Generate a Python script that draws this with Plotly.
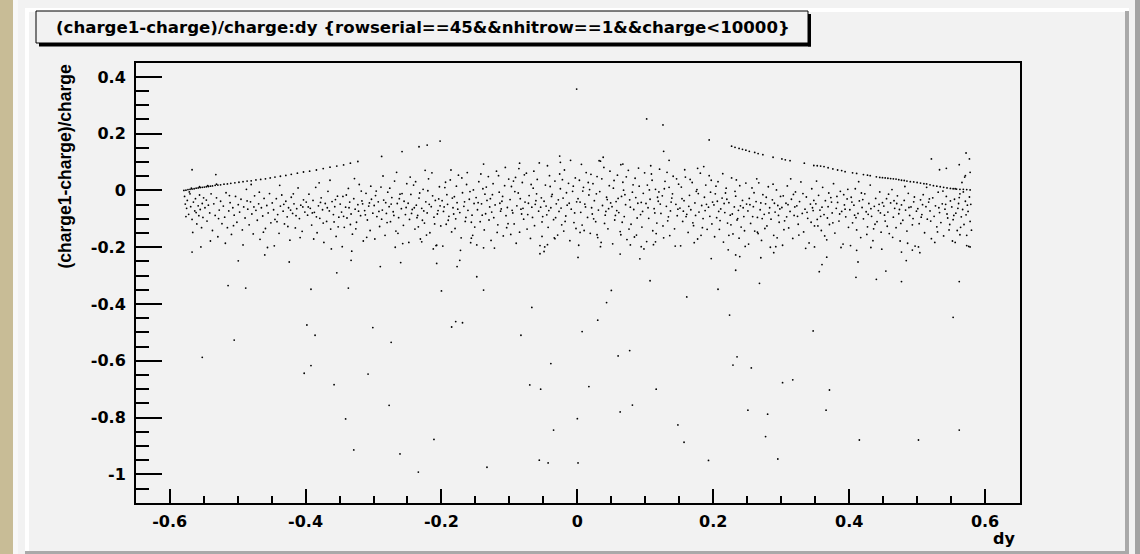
import plotly.graph_objects as go

# ---------------------------------------------------------------------------
# Data: (dy, (charge1-charge)/charge) pairs
# ---------------------------------------------------------------------------

# upper-left diagonal band
left_edge = [
    (-0.579, 0.000), (-0.576, 0.001), (-0.573, 0.003), (-0.570, 0.004), (-0.567, 0.005),
    (-0.564, 0.006), (-0.561, 0.008), (-0.558, 0.009), (-0.555, 0.010), (-0.552, 0.011),
    (-0.549, 0.012), (-0.546, 0.013), (-0.543, 0.014), (-0.540, 0.015), (-0.537, 0.016),
    (-0.533, 0.018), (-0.529, 0.019), (-0.525, 0.020), (-0.520, 0.022), (-0.515, 0.023),
    (-0.510, 0.025), (-0.504, 0.027), (-0.498, 0.029), (-0.492, 0.031), (-0.486, 0.033),
    (-0.480, 0.034), (-0.473, 0.037), (-0.466, 0.039), (-0.459, 0.041), (-0.452, 0.044),
    (-0.445, 0.047), (-0.437, 0.050), (-0.429, 0.053), (-0.421, 0.057), (-0.412, 0.061),
    (-0.403, 0.065), (-0.394, 0.068), (-0.384, 0.072), (-0.374, 0.077), (-0.364, 0.082),
    (-0.354, 0.086), (-0.344, 0.090), (-0.334, 0.096), (-0.323, 0.102),
    (-0.568, 0.008), (-0.556, 0.013), (-0.544, 0.017), (-0.531, 0.022),
]

# upper-right band
right_edge = [
    (0.227, 0.156), (0.232, 0.152), (0.238, 0.148), (0.243, 0.145), (0.248, 0.142),
    (0.253, 0.138), (0.261, 0.134), (0.266, 0.130), (0.273, 0.126), (0.288, 0.117),
    (0.301, 0.111), (0.306, 0.108), (0.313, 0.105), (0.334, 0.096), (0.348, 0.088),
    (0.353, 0.087), (0.358, 0.086), (0.363, 0.084), (0.369, 0.080), (0.376, 0.076),
    (0.383, 0.072), (0.389, 0.070), (0.394, 0.066), (0.405, 0.062), (0.411, 0.060),
    (0.421, 0.056), (0.427, 0.054), (0.431, 0.052), (0.440, 0.048), (0.445, 0.046),
    (0.449, 0.045), (0.453, 0.044), (0.457, 0.043), (0.461, 0.042), (0.465, 0.041),
    (0.469, 0.040), (0.473, 0.038), (0.477, 0.036), (0.481, 0.035), (0.485, 0.033),
    (0.490, 0.031), (0.495, 0.030), (0.500, 0.028), (0.505, 0.026), (0.510, 0.024),
    (0.514, 0.023), (0.519, 0.020), (0.524, 0.017), (0.529, 0.015), (0.534, 0.013),
    (0.539, 0.011), (0.544, 0.009), (0.549, 0.007), (0.553, 0.006), (0.558, 0.005),
    (0.563, 0.004), (0.568, 0.004), (0.573, 0.003), (0.578, 0.002),
]

# main band, dy < -0.2
cloud_left = [
    (-0.578, -0.021), (-0.577, -0.048), (-0.575, -0.063), (-0.574, -0.035), (-0.572, -0.084),
    (-0.570, -0.012), (-0.569, -0.057), (-0.567, -0.102), (-0.565, -0.041), (-0.563, -0.072),
    (-0.562, -0.029), (-0.560, -0.118), (-0.558, -0.054), (-0.557, -0.089), (-0.556, -0.016),
    (-0.555, -0.067), (-0.553, -0.131), (-0.552, -0.046), (-0.551, -0.095), (-0.550, -0.026),
    (-0.566, -0.148), (-0.571, -0.005), (-0.561, -0.078), (-0.554, -0.199), (-0.576, -0.092),
    (-0.548, -0.061), (-0.546, -0.034), (-0.545, -0.108), (-0.543, -0.052), (-0.541, -0.079),
    (-0.539, -0.012), (-0.537, -0.141), (-0.535, -0.047), (-0.533, -0.088), (-0.531, -0.026),
    (-0.529, -0.163), (-0.527, -0.069), (-0.525, -0.038), (-0.523, -0.117), (-0.521, -0.055),
    (-0.519, -0.094), (-0.517, -0.008), (-0.515, -0.131), (-0.513, -0.072), (-0.511, -0.043),
    (-0.509, -0.155), (-0.507, -0.061), (-0.505, -0.087), (-0.503, -0.021), (-0.501, -0.112),
    (-0.540, -0.178), (-0.528, -0.099), (-0.518, -0.186), (-0.512, -0.018), (-0.506, -0.124),
    (-0.499, -0.050), (-0.497, -0.076), (-0.495, -0.031), (-0.493, -0.139), (-0.491, -0.058),
    (-0.489, -0.097), (-0.487, 0.004), (-0.485, -0.066), (-0.483, -0.121), (-0.481, -0.040),
    (-0.479, -0.083), (-0.477, -0.153), (-0.475, -0.019), (-0.473, -0.070), (-0.471, -0.105),
    (-0.469, -0.047), (-0.467, -0.172), (-0.465, -0.061), (-0.463, -0.090), (-0.461, -0.028),
    (-0.459, -0.134), (-0.457, -0.053), (-0.455, -0.079), (-0.453, -0.011), (-0.451, -0.114),
    (-0.492, -0.192), (-0.486, -0.037), (-0.476, -0.058), (-0.468, -0.006), (-0.462, -0.147),
    (-0.456, -0.201), (-0.480, 0.021),
    (-0.449, -0.044), (-0.447, -0.068), (-0.445, -0.102), (-0.443, -0.029), (-0.441, -0.085),
    (-0.439, -0.151), (-0.437, -0.055), (-0.435, -0.016), (-0.433, -0.073), (-0.431, -0.118),
    (-0.429, -0.038), (-0.427, -0.093), (-0.425, -0.061), (-0.423, -0.175), (-0.421, -0.024),
    (-0.419, -0.081), (-0.417, -0.047), (-0.415, -0.132), (-0.413, -0.064), (-0.411, 0.009),
    (-0.409, -0.099), (-0.407, -0.052), (-0.405, -0.144), (-0.403, -0.033), (-0.401, -0.076),
    (-0.446, -0.195), (-0.438, 0.018), (-0.432, -0.049), (-0.426, -0.127), (-0.418, -0.012),
    (-0.414, -0.089), (-0.408, -0.166), (-0.404, -0.058), (-0.442, -0.110), (-0.422, -0.069),
    (-0.399, -0.041), (-0.397, -0.087), (-0.395, -0.013), (-0.393, -0.063), (-0.391, -0.122),
    (-0.389, -0.035), (-0.387, -0.077), (-0.385, 0.011), (-0.383, -0.149), (-0.381, -0.054),
    (-0.379, -0.098), (-0.377, -0.026), (-0.375, -0.068), (-0.373, -0.183), (-0.371, -0.046),
    (-0.369, -0.109), (-0.367, -0.003), (-0.365, -0.072), (-0.363, -0.136), (-0.361, -0.039),
    (-0.359, -0.085), (-0.357, -0.057), (-0.355, -0.162), (-0.353, -0.020), (-0.351, -0.094),
    (-0.396, -0.058), (-0.388, -0.171), (-0.380, 0.027), (-0.374, -0.115), (-0.368, -0.061),
    (-0.362, -0.206), (-0.356, -0.032), (-0.352, -0.128), (-0.390, -0.079), (-0.378, -0.042),
    (-0.364, 0.036), (-0.358, -0.111), (-0.384, -0.093),
    (-0.349, -0.048), (-0.347, -0.076), (-0.345, -0.021), (-0.343, -0.130), (-0.341, -0.059),
    (-0.339, -0.097), (-0.337, 0.007), (-0.335, -0.041), (-0.333, -0.083), (-0.331, -0.154),
    (-0.329, -0.029), (-0.327, -0.066), (-0.325, -0.112), (-0.323, -0.050), (-0.321, 0.021),
    (-0.319, -0.089), (-0.317, -0.037), (-0.315, -0.178), (-0.313, -0.071), (-0.311, -0.010),
    (-0.309, -0.104), (-0.307, -0.055), (-0.305, -0.141), (-0.303, -0.031), (-0.301, -0.080),
    (-0.346, -0.198), (-0.340, -0.016), (-0.334, -0.120), (-0.328, 0.042), (-0.322, -0.073),
    (-0.316, -0.047), (-0.310, -0.165), (-0.304, 0.015), (-0.344, -0.091), (-0.336, -0.061),
    (-0.326, -0.135), (-0.318, -0.002), (-0.312, -0.086), (-0.306, -0.044), (-0.332, -0.214),
    (-0.299, -0.053), (-0.297, -0.018), (-0.295, -0.092), (-0.293, -0.040), (-0.291, -0.127),
    (-0.289, 0.012), (-0.287, -0.069), (-0.285, -0.034), (-0.283, -0.158), (-0.281, -0.081),
    (-0.279, -0.006), (-0.277, -0.057), (-0.275, -0.110), (-0.273, -0.025), (-0.271, -0.075),
    (-0.269, 0.033), (-0.267, -0.143), (-0.265, -0.046), (-0.263, -0.096), (-0.261, -0.013),
    (-0.259, -0.064), (-0.257, -0.187), (-0.255, -0.038), (-0.253, -0.085), (-0.251, 0.024),
    (-0.298, -0.171), (-0.292, -0.074), (-0.286, 0.051), (-0.280, -0.113), (-0.274, -0.048),
    (-0.268, -0.200), (-0.262, -0.029), (-0.256, -0.123), (-0.252, -0.060), (-0.296, -0.002),
    (-0.288, -0.101), (-0.276, 0.008), (-0.270, -0.088), (-0.264, -0.151), (-0.258, -0.011),
    (-0.282, -0.043), (-0.266, 0.064),
    (-0.249, -0.045), (-0.247, -0.102), (-0.245, -0.014), (-0.243, -0.067), (-0.241, 0.019),
    (-0.239, -0.136), (-0.237, -0.052), (-0.235, -0.088), (-0.233, -0.027), (-0.231, -0.171),
    (-0.229, -0.063), (-0.227, 0.004), (-0.225, -0.115), (-0.223, -0.040), (-0.221, -0.079),
    (-0.219, 0.041), (-0.217, -0.149), (-0.215, -0.057), (-0.213, -0.019), (-0.211, -0.094),
    (-0.209, -0.035), (-0.207, -0.193), (-0.205, -0.071), (-0.203, 0.013), (-0.201, -0.125),
    (-0.248, -0.183), (-0.244, -0.081), (-0.238, 0.031), (-0.232, -0.009), (-0.228, -0.105),
    (-0.222, -0.157), (-0.218, -0.049), (-0.214, 0.062), (-0.210, -0.118), (-0.204, -0.030),
    (-0.246, 0.047), (-0.240, -0.061), (-0.234, -0.128), (-0.226, -0.072), (-0.220, -0.001),
    (-0.212, -0.206), (-0.206, -0.083), (-0.202, -0.054), (-0.236, -0.096), (-0.224, 0.071),
]

# main band, -0.2 <= dy < 0.2
cloud_mid = [
    (-0.199, -0.036), (-0.197, -0.074), (-0.195, 0.010), (-0.193, -0.119), (-0.191, -0.049),
    (-0.189, -0.091), (-0.187, 0.037), (-0.185, -0.146), (-0.183, -0.061), (-0.181, -0.022),
    (-0.179, -0.100), (-0.177, -0.043), (-0.175, 0.054), (-0.173, -0.078), (-0.171, -0.167),
    (-0.169, -0.008), (-0.167, -0.056), (-0.165, -0.109), (-0.163, 0.021), (-0.161, -0.070),
    (-0.159, -0.031), (-0.157, -0.184), (-0.155, -0.087), (-0.153, 0.002), (-0.151, -0.129),
    (-0.198, -0.196), (-0.192, -0.015), (-0.186, 0.072), (-0.180, -0.134), (-0.176, -0.066),
    (-0.170, 0.044), (-0.164, -0.095), (-0.158, -0.004), (-0.154, -0.158), (-0.196, -0.058),
    (-0.190, -0.105), (-0.184, -0.027), (-0.178, 0.015), (-0.172, -0.211), (-0.166, -0.040),
    (-0.162, 0.063), (-0.156, -0.112), (-0.152, -0.046), (-0.194, 0.029), (-0.182, -0.083),
    (-0.149, -0.025), (-0.147, -0.068), (-0.145, 0.031), (-0.143, -0.110), (-0.141, -0.047),
    (-0.139, 0.006), (-0.137, -0.139), (-0.135, -0.082), (-0.133, -0.035), (-0.131, 0.049),
    (-0.129, -0.058), (-0.127, -0.176), (-0.125, -0.015), (-0.123, -0.096), (-0.121, -0.051),
    (-0.119, 0.068), (-0.117, -0.121), (-0.115, -0.006), (-0.113, -0.073), (-0.111, -0.038),
    (-0.109, -0.160), (-0.107, 0.017), (-0.105, -0.089), (-0.103, -0.060), (-0.101, 0.040),
    (-0.148, -0.192), (-0.142, 0.058), (-0.136, -0.013), (-0.130, -0.104), (-0.124, 0.024),
    (-0.118, -0.148), (-0.112, -0.065), (-0.106, 0.081), (-0.102, -0.117), (-0.146, -0.043),
    (-0.140, -0.087), (-0.134, 0.012), (-0.128, -0.029), (-0.122, -0.203), (-0.116, 0.052),
    (-0.110, -0.021), (-0.104, -0.131), (-0.138, 0.093), (-0.126, -0.076), (-0.114, -0.045),
    (-0.099, -0.032), (-0.097, 0.014), (-0.095, -0.079), (-0.093, -0.118), (-0.091, 0.046),
    (-0.089, -0.054), (-0.087, -0.009), (-0.085, -0.147), (-0.083, -0.066), (-0.081, 0.028),
    (-0.079, -0.101), (-0.077, -0.041), (-0.075, 0.061), (-0.073, -0.085), (-0.071, -0.018),
    (-0.069, -0.169), (-0.067, -0.059), (-0.065, 0.008), (-0.063, -0.124), (-0.061, -0.036),
    (-0.059, 0.039), (-0.057, -0.073), (-0.055, -0.194), (-0.053, -0.026), (-0.051, -0.092),
    (-0.098, -0.155), (-0.092, -0.004), (-0.086, 0.077), (-0.080, -0.063), (-0.074, -0.136),
    (-0.068, 0.021), (-0.062, -0.049), (-0.056, 0.097), (-0.052, -0.111), (-0.096, -0.070),
    (-0.090, -0.186), (-0.084, -0.029), (-0.078, 0.055), (-0.072, -0.045), (-0.066, -0.095),
    (-0.060, -0.012), (-0.054, -0.059), (-0.094, 0.033), (-0.082, -0.083), (-0.064, 0.068),
    (-0.049, -0.038), (-0.047, 0.019), (-0.045, -0.086), (-0.043, -0.130), (-0.041, 0.052),
    (-0.039, -0.061), (-0.037, -0.014), (-0.035, -0.103), (-0.033, 0.033), (-0.031, -0.047),
    (-0.029, -0.157), (-0.027, -0.074), (-0.025, 0.006), (-0.023, -0.121), (-0.021, -0.027),
    (-0.019, 0.072), (-0.017, -0.090), (-0.015, -0.052), (-0.013, 0.025), (-0.011, -0.177),
    (-0.009, -0.066), (-0.007, -0.003), (-0.005, -0.113), (-0.003, 0.044), (-0.001, -0.040),
    (-0.048, -0.199), (-0.044, 0.087), (-0.038, -0.021), (-0.032, -0.096), (-0.026, 0.058),
    (-0.020, -0.143), (-0.016, -0.008), (-0.010, 0.106), (-0.004, -0.079), (-0.046, -0.055),
    (-0.040, 0.014), (-0.034, -0.167), (-0.028, -0.033), (-0.022, 0.038), (-0.018, -0.109),
    (-0.012, -0.045), (-0.006, 0.015), (-0.002, -0.134), (-0.042, -0.071), (-0.024, -0.062),
    (0.001, -0.029), (0.003, 0.036), (0.005, -0.077), (0.007, -0.122), (0.009, 0.011),
    (0.011, -0.048), (0.013, 0.063), (0.015, -0.095), (0.017, -0.016), (0.019, -0.151),
    (0.021, -0.061), (0.023, 0.024), (0.025, -0.036), (0.027, -0.110), (0.029, 0.049),
    (0.031, -0.069), (0.033, -0.004), (0.035, -0.183), (0.037, -0.053), (0.039, 0.081),
    (0.041, -0.087), (0.043, -0.024), (0.045, -0.135), (0.047, 0.017), (0.049, -0.044),
    (0.002, -0.193), (0.006, 0.092), (0.012, -0.058), (0.018, 0.003), (0.024, -0.100),
    (0.030, -0.166), (0.036, 0.041), (0.042, -0.074), (0.048, 0.068), (0.004, -0.041),
    (0.010, -0.141), (0.016, 0.028), (0.022, -0.083), (0.028, -0.012), (0.034, 0.103),
    (0.040, -0.116), (0.046, -0.064), (0.008, -0.002), (0.020, 0.057), (0.044, -0.032),
    (0.051, -0.057), (0.053, 0.008), (0.055, -0.104), (0.057, -0.039), (0.059, 0.054),
    (0.061, -0.078), (0.063, -0.145), (0.065, -0.021), (0.067, 0.029), (0.069, -0.092),
    (0.071, -0.050), (0.073, -0.173), (0.075, 0.071), (0.077, -0.033), (0.079, -0.119),
    (0.081, -0.006), (0.083, -0.067), (0.085, 0.043), (0.087, -0.157), (0.089, -0.045),
    (0.091, 0.015), (0.093, -0.085), (0.095, -0.129), (0.097, -0.010), (0.099, 0.062),
    (0.052, -0.188), (0.058, -0.071), (0.064, 0.091), (0.070, -0.015), (0.076, -0.136),
    (0.082, 0.020), (0.088, -0.097), (0.094, -0.042), (0.098, -0.206), (0.054, 0.035),
    (0.060, -0.028), (0.066, -0.112), (0.072, 0.048), (0.078, -0.059), (0.084, -0.164),
    (0.090, 0.079), (0.096, -0.074), (0.056, -0.088), (0.068, 0.001), (0.086, -0.025),
    (0.101, -0.046), (0.103, 0.019), (0.105, -0.098), (0.107, -0.031), (0.109, 0.058),
    (0.111, -0.142), (0.113, -0.064), (0.115, 0.004), (0.117, -0.115), (0.119, -0.038),
    (0.121, 0.075), (0.123, -0.081), (0.125, -0.019), (0.127, -0.167), (0.129, 0.032),
    (0.131, -0.056), (0.133, -0.107), (0.135, 0.011), (0.137, -0.072), (0.139, -0.027),
    (0.141, 0.050), (0.143, -0.135), (0.145, -0.049), (0.147, -0.089), (0.149, 0.022),
    (0.102, -0.180), (0.108, 0.087), (0.114, -0.079), (0.120, -0.005), (0.126, -0.125),
    (0.132, 0.064), (0.138, -0.041), (0.144, -0.196), (0.148, -0.066), (0.104, -0.061),
    (0.110, 0.036), (0.116, -0.152), (0.122, -0.048), (0.128, 0.006), (0.134, -0.093),
    (0.140, -0.012), (0.146, 0.041), (0.106, 0.002), (0.118, -0.024), (0.136, -0.159),
    (0.151, -0.062), (0.153, 0.012), (0.155, -0.109), (0.157, -0.036), (0.159, 0.047),
    (0.161, -0.084), (0.163, -0.148), (0.165, -0.017), (0.167, -0.068), (0.169, 0.028),
    (0.171, -0.124), (0.173, -0.044), (0.175, -0.003), (0.177, -0.171), (0.179, -0.076),
    (0.181, 0.061), (0.183, -0.053), (0.185, -0.099), (0.187, -0.024), (0.189, 0.019),
    (0.191, -0.137), (0.193, -0.059), (0.195, -0.091), (0.197, 0.036), (0.199, -0.041),
    (0.152, -0.195), (0.158, 0.073), (0.164, -0.056), (0.170, -0.114), (0.176, 0.003),
    (0.182, -0.158), (0.188, -0.071), (0.194, 0.052), (0.198, -0.118), (0.154, -0.029),
    (0.160, -0.092), (0.166, 0.039), (0.172, -0.184), (0.178, -0.011), (0.184, -0.131),
    (0.190, -0.049), (0.196, -0.006), (0.156, -0.073), (0.174, -0.088), (0.186, 0.084),
]

# main band, dy >= 0.2
cloud_right = [
    (0.201, -0.051), (0.203, -0.012), (0.205, -0.096), (0.207, 0.031), (0.209, -0.137),
    (0.211, -0.065), (0.213, -0.027), (0.215, -0.182), (0.217, -0.078), (0.219, 0.008),
    (0.221, -0.115), (0.223, -0.043), (0.225, -0.087), (0.227, 0.044), (0.229, -0.153),
    (0.231, -0.058), (0.233, -0.020), (0.235, -0.104), (0.237, -0.070), (0.239, 0.017),
    (0.241, -0.129), (0.243, -0.035), (0.245, -0.092), (0.247, -0.197), (0.249, -0.048),
    (0.202, -0.163), (0.208, -0.074), (0.214, 0.059), (0.220, -0.031), (0.226, -0.121),
    (0.232, -0.003), (0.238, -0.168), (0.244, -0.061), (0.248, 0.026), (0.204, 0.015),
    (0.210, -0.106), (0.216, -0.046), (0.222, -0.209), (0.228, -0.083), (0.234, 0.037),
    (0.240, -0.054), (0.246, -0.142), (0.206, -0.038), (0.218, -0.009), (0.236, -0.099),
    (0.251, -0.072), (0.253, -0.028), (0.255, -0.116), (0.257, 0.009), (0.259, -0.057),
    (0.261, -0.143), (0.263, -0.039), (0.265, -0.095), (0.267, 0.027), (0.269, -0.068),
    (0.271, -0.176), (0.273, -0.015), (0.275, -0.084), (0.277, -0.047), (0.279, -0.125),
    (0.281, 0.013), (0.283, -0.061), (0.285, -0.101), (0.287, -0.033), (0.289, -0.158),
    (0.291, -0.076), (0.293, 0.002), (0.295, -0.053), (0.297, -0.112), (0.299, -0.021),
    (0.252, -0.189), (0.258, -0.092), (0.264, 0.041), (0.270, -0.044), (0.276, -0.134),
    (0.282, -0.079), (0.288, 0.022), (0.294, -0.167), (0.298, -0.065), (0.254, -0.050),
    (0.260, -0.008), (0.266, -0.152), (0.272, -0.099), (0.278, -0.024), (0.284, -0.200),
    (0.290, -0.045), (0.296, -0.088),
    (0.301, -0.060), (0.303, -0.019), (0.305, -0.107), (0.307, -0.045), (0.309, 0.016),
    (0.311, -0.132), (0.313, -0.074), (0.315, -0.031), (0.317, -0.169), (0.319, -0.088),
    (0.321, -0.005), (0.323, -0.054), (0.325, -0.119), (0.327, -0.039), (0.329, 0.030),
    (0.331, -0.081), (0.333, -0.146), (0.335, -0.066), (0.337, -0.023), (0.339, -0.098),
    (0.341, -0.185), (0.343, -0.048), (0.345, 0.006), (0.347, -0.071), (0.349, -0.125),
    (0.302, -0.193), (0.308, -0.093), (0.314, 0.041), (0.320, -0.058), (0.326, -0.157),
    (0.332, -0.011), (0.338, -0.077), (0.344, -0.112), (0.348, -0.035), (0.304, -0.138),
    (0.310, -0.050), (0.318, -0.014), (0.324, -0.091), (0.336, -0.204), (0.346, -0.061),
    (0.351, -0.047), (0.353, -0.102), (0.355, -0.017), (0.357, -0.069), (0.359, -0.141),
    (0.361, 0.011), (0.363, -0.085), (0.365, -0.036), (0.367, -0.174), (0.369, -0.057),
    (0.371, -0.120), (0.373, -0.025), (0.375, -0.079), (0.377, 0.024), (0.379, -0.150),
    (0.381, -0.063), (0.383, -0.042), (0.385, -0.108), (0.387, -0.003), (0.389, -0.074),
    (0.391, -0.189), (0.393, -0.051), (0.395, -0.093), (0.397, -0.030), (0.399, -0.130),
    (0.352, 0.033), (0.358, -0.091), (0.364, -0.160), (0.370, -0.009), (0.376, -0.114),
    (0.382, -0.021), (0.388, -0.201), (0.394, -0.066), (0.398, 0.004), (0.354, -0.125),
    (0.360, -0.059), (0.368, -0.097), (0.374, -0.041), (0.386, -0.083), (0.392, -0.015),
    (0.401, -0.068), (0.403, -0.024), (0.405, -0.114), (0.407, -0.052), (0.409, 0.006),
    (0.411, -0.139), (0.413, -0.081), (0.415, -0.037), (0.417, -0.166), (0.419, -0.060),
    (0.421, -0.100), (0.423, -0.012), (0.425, -0.075), (0.427, -0.128), (0.429, -0.046),
    (0.431, 0.019), (0.433, -0.091), (0.435, -0.177), (0.437, -0.056), (0.439, -0.028),
    (0.441, -0.110), (0.443, -0.071), (0.445, -0.005), (0.447, -0.147), (0.449, -0.043),
    (0.402, -0.194), (0.408, -0.087), (0.414, 0.031), (0.420, -0.032), (0.426, -0.155),
    (0.432, -0.064), (0.438, -0.119), (0.444, -0.049), (0.448, -0.207), (0.404, -0.041),
    (0.410, -0.096), (0.418, -0.009), (0.428, -0.084), (0.436, -0.135), (0.446, -0.079),
    (0.451, -0.055), (0.453, -0.108), (0.455, -0.029), (0.457, -0.076), (0.459, -0.152),
    (0.461, -0.044), (0.463, 0.003), (0.465, -0.094), (0.467, -0.063), (0.469, -0.131),
    (0.471, -0.019), (0.473, -0.082), (0.475, -0.178), (0.477, -0.051), (0.479, -0.105),
    (0.481, -0.035), (0.483, -0.069), (0.485, -0.143), (0.487, -0.010), (0.489, -0.088),
    (0.491, -0.058), (0.493, -0.121), (0.495, -0.040), (0.497, -0.196), (0.499, -0.073),
    (0.452, -0.087), (0.458, -0.013), (0.464, -0.165), (0.470, -0.046), (0.476, -0.116),
    (0.482, 0.014), (0.488, -0.060), (0.494, -0.099), (0.456, -0.126), (0.466, -0.036),
    (0.474, -0.067), (0.486, -0.186), (0.496, -0.023),
    (0.501, -0.064), (0.503, -0.117), (0.505, -0.033), (0.507, -0.085), (0.509, -0.015),
    (0.511, -0.149), (0.513, -0.057), (0.515, -0.101), (0.517, -0.041), (0.519, -0.072),
    (0.521, -0.170), (0.523, -0.026), (0.525, -0.091), (0.527, -0.054), (0.529, -0.128),
    (0.531, -0.006), (0.533, -0.078), (0.535, -0.113), (0.537, -0.047), (0.539, -0.160),
    (0.541, -0.066), (0.543, -0.021), (0.545, -0.097), (0.547, -0.139), (0.549, -0.037),
    (0.502, -0.199), (0.508, -0.050), (0.514, 0.011), (0.520, -0.108), (0.526, -0.183),
    (0.532, -0.061), (0.538, -0.002), (0.544, -0.083), (0.548, -0.120), (0.506, -0.094),
    (0.518, -0.030), (0.530, -0.146), (0.542, -0.049),
    (0.551, -0.058), (0.553, -0.103), (0.555, -0.031), (0.557, -0.080), (0.559, -0.141),
    (0.561, -0.046), (0.563, -0.012), (0.565, -0.093), (0.567, -0.067), (0.569, -0.120),
    (0.571, -0.038), (0.573, -0.158), (0.575, -0.074), (0.577, -0.023), (0.578, -0.109),
    (0.552, -0.178), (0.556, 0.006), (0.560, -0.063), (0.564, -0.130), (0.568, -0.005),
    (0.572, -0.086), (0.576, -0.197), (0.579, -0.049), (0.554, -0.088), (0.562, -0.025),
    (0.566, 0.028), (0.570, 0.047), (0.574, -0.052), (0.578, 0.064), (0.580, -0.140),
]

# isolated entries above and below the band
stragglers = [
    (-0.001, 0.357), (0.102, 0.252), (0.126, 0.231), (0.194, 0.178), (0.127, 0.138),
    (0.135, 0.106), (0.038, 0.117), (0.032, 0.105), (0.067, 0.093), (0.177, 0.078),
    (-0.026, 0.121), (-0.025, 0.099), (-0.085, 0.096),
    (-0.202, 0.174), (-0.221, 0.160), (-0.233, 0.154), (-0.258, 0.137), (-0.288, 0.120),
    (-0.567, 0.073), (-0.532, 0.056),
    (0.521, 0.111), (0.572, 0.132), (0.577, 0.111), (0.562, 0.091), (0.533, 0.073),
    (0.543, 0.078), (0.571, 0.052),
    (-0.567, -0.217), (-0.460, -0.227), (-0.208, -0.194), (-0.138, -0.202), (-0.156, -0.168),
    (-0.055, -0.223), (-0.049, -0.215), (-0.044, -0.191), (-0.052, -0.162), (-0.033, -0.170),
    (-0.229, -0.181), (0.001, -0.236), (0.034, -0.198), (0.063, -0.224), (0.078, -0.192),
    (0.092, -0.241), (0.094, -0.198), (0.112, -0.191), (0.115, -0.181), (0.064, -0.156),
    (0.029, -0.156), (0.004, -0.148), (0.197, -0.240), (0.233, -0.227), (0.239, -0.233),
    (0.270, -0.237), (0.289, -0.219), (0.292, -0.198), (0.367, -0.235), (0.411, -0.211),
    (0.432, -0.201), (0.477, -0.217), (0.493, -0.210), (0.504, -0.219), (0.556, -0.183),
    (0.563, -0.156), (0.578, -0.199), (0.573, -0.194), (0.349, -0.199), (0.265, -0.147),
    (0.223, -0.158),
    (-0.499, -0.248), (-0.424, -0.252), (-0.333, -0.246), (-0.290, -0.268), (-0.260, -0.254),
    (-0.207, -0.257), (-0.177, -0.268), (-0.173, -0.246), (-0.354, -0.290), (-0.148, -0.304),
    (-0.514, -0.335), (-0.488, -0.344), (-0.392, -0.348), (-0.337, -0.344), (-0.200, -0.354),
    (-0.138, -0.351), (-0.067, -0.412), (-0.398, -0.474), (-0.386, -0.510), (-0.301, -0.483),
    (-0.274, -0.535), (-0.185, -0.481), (-0.179, -0.462), (-0.169, -0.466), (-0.083, -0.510),
    (-0.505, -0.527), (-0.552, -0.588), (-0.392, -0.617), (-0.402, -0.644), (-0.308, -0.647),
    (-0.358, -0.684), (-0.039, -0.610), (-0.070, -0.685), (-0.054, -0.700), (-0.277, -0.757),
    (-0.341, -0.805), (0.000, -0.804), (-0.035, -0.844), (-0.211, -0.877), (-0.329, -0.914),
    (-0.261, -0.928), (-0.234, -0.992), (-0.133, -0.975), (-0.056, -0.950), (-0.043, -0.960),
    (0.001, -0.960),
    (0.360, -0.261), (0.413, -0.252), (0.484, -0.247), (0.356, -0.286), (0.410, -0.306),
    (0.440, -0.313), (0.454, -0.284), (0.477, -0.321), (0.562, -0.321), (0.233, -0.281),
    (0.268, -0.327), (0.207, -0.348), (0.107, -0.318), (0.050, -0.352), (0.043, -0.395),
    (0.161, -0.375), (0.224, -0.439), (0.030, -0.457), (0.007, -0.497), (0.347, -0.495),
    (0.553, -0.447), (0.077, -0.564), (0.060, -0.583), (0.235, -0.586), (0.229, -0.615),
    (0.256, -0.625), (0.302, -0.677), (0.317, -0.667), (0.371, -0.703), (0.017, -0.691),
    (0.116, -0.700), (0.081, -0.756), (0.063, -0.780), (0.251, -0.774), (0.280, -0.788),
    (0.366, -0.774), (0.148, -0.826), (0.157, -0.887), (0.277, -0.867), (0.415, -0.879),
    (0.502, -0.879), (0.562, -0.844), (0.193, -0.951), (0.295, -0.946),
]

x_tick_vals = [-0.6, -0.4, -0.2, 0.0, 0.2, 0.4, 0.6]
x_tick_text = ["-0.6", "-0.4", "-0.2", "0", "0.2", "0.4", "0.6"]
y_tick_vals = [-1.0, -0.8, -0.6, -0.4, -0.2, 0.0, 0.2, 0.4]
y_tick_text = ["-1", "-0.8", "-0.6", "-0.4", "-0.2", "0", "0.2", "0.4"]

title_text = "(charge1-charge)/charge:dy {rowserial==45&&nhitrow==1&&charge<10000}"
x_title = "dy"
y_title = "(charge1-charge)/charge"

# ---------------------------------------------------------------------------
# Geometry of the canvas (pixels)
# ---------------------------------------------------------------------------
W, H = 1140, 554
L, R, T, B = 136, 1020, 63, 503          # frame of the plotting area
PAD = "#f2f2f2"


def fx(px):
    return (px - L) / (R - L)


def fy(py):
    return (B - py) / (B - T)


def rect(x0, y0, x1, y1, fill, line=None, lw=0, layer="below"):
    return dict(type="rect", xref="paper", yref="paper",
                x0=fx(x0), x1=fx(x1), y0=fy(y1), y1=fy(y0),
                fillcolor=fill, layer=layer,
                line=dict(color=line or fill, width=lw))


points = left_edge + right_edge + cloud_left + cloud_mid + cloud_right + stragglers
dy = [p[0] for p in points]
ratio = [p[1] for p in points]

fig = go.Figure(
    go.Scatter(
        x=dy, y=ratio, mode="markers",
        marker=dict(size=1.8, color="#000000", line=dict(width=0)),
        hoverinfo="skip",
    )
)

shapes = [
    # page background strip on the left
    rect(0, 0, 13, H, "#c8bc96"),
    rect(13, 0, 18, H, "#f8f8f8"),
    # bevelled canvas border
    rect(25, 8, 1129, 12, "#ffffff"),
    rect(25, 8, 29, H, "#ffffff"),
    rect(1125, 11, 1129, H, "#a9a9a9"),
    rect(25, 551, 1129, H, "#a9a9a9"),
    rect(1135, 0, W, H, "#a3a3a3"),
    # title box with drop shadow
    rect(39, 43, 811, 46.5, "#000000", layer="above"),
    rect(808, 14, 811, 46.5, "#000000", layer="above"),
    rect(36, 11, 808, 43, PAD, line="#000000", lw=1, layer="above"),
]

bold_wide = dict(family="DejaVu Sans", size=16, color="black", weight="bold")

annotations = [
    dict(text=title_text, xref="paper", yref="paper", x=fx(54), y=fy(27.5),
         xanchor="left", yanchor="middle", showarrow=False,
         font=dict(family="DejaVu Sans", size=16.6, color="black", weight="bold")),
    dict(text=x_title, xref="paper", yref="paper", x=fx(1017), y=fy(538),
         xanchor="right", yanchor="middle", showarrow=False, font=bold_wide),
    dict(text=y_title, xref="paper", yref="paper", x=fx(64), y=fy(62),
         xanchor="center", yanchor="top", textangle=-90, showarrow=False,
         font=dict(family="Liberation Sans", size=17.5, color="black", weight="bold")),
]

fig.update_layout(
    width=W, height=H,
    margin=dict(l=L, r=W - R, t=T, b=H - B, pad=0),
    paper_bgcolor=PAD, plot_bgcolor=PAD,
    showlegend=False, hovermode=False,
    shapes=shapes, annotations=annotations,
)

axis_common = dict(
    showline=True, linewidth=2, linecolor="black", mirror=True,
    showgrid=False, zeroline=False,
    ticks="inside", tickwidth=2, tickcolor="black",
    tickmode="array", tickfont=bold_wide,
)

fig.update_xaxes(
    range=[-0.6495, 0.6514], tickvals=x_tick_vals, ticktext=x_tick_text,
    ticklen=14, ticklabelstandoff=3,
    minor=dict(tickmode="linear", tick0=0, dtick=0.05, ticks="inside",
               ticklen=7, tickwidth=2, tickcolor="black", showgrid=False),
    **axis_common,
)
fig.update_yaxes(
    range=[-1.101, 0.449], tickvals=y_tick_vals, ticktext=y_tick_text,
    ticklen=26, ticklabelstandoff=5,
    minor=dict(tickmode="linear", tick0=0, dtick=0.05, ticks="inside",
               ticklen=13, tickwidth=2, tickcolor="black", showgrid=False),
    **axis_common,
)

fig.write_html("out.html", config={"displayModeBar": False})
